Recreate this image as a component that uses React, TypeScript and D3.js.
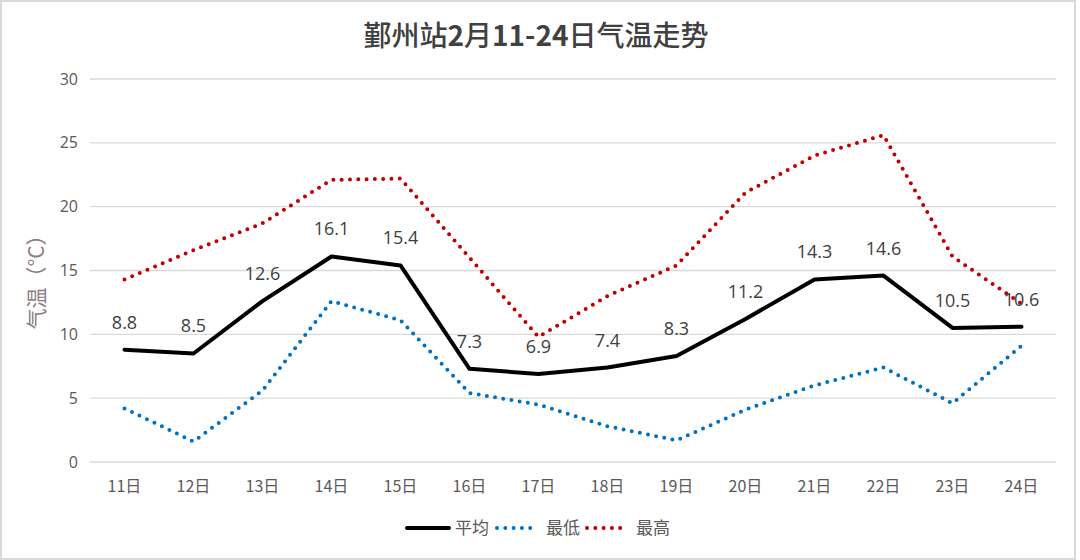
import * as d3 from "d3";

const days = ["11日", "12日", "13日", "14日", "15日", "16日", "17日", "18日", "19日", "20日", "21日", "22日", "23日", "24日"];
const avgTemp = [8.8, 8.5, 12.6, 16.1, 15.4, 7.3, 6.9, 7.4, 8.3, 11.2, 14.3, 14.6, 10.5, 10.6];
const lowTemp = [4.2, 1.6, 5.6, 12.6, 11.1, 5.4, 4.5, 2.8, 1.7, 4.1, 6.0, 7.4, 4.6, 9.1];
const highTemp = [14.3, 16.6, 18.7, 22.1, 22.2, 16.0, 9.8, 13.0, 15.4, 21.1, 24.0, 25.6, 16.1, 12.4];
const yTicks = [0, 5, 10, 15, 20, 25, 30];

const W = 1080;
const H = 560;
const margin = { top: 79, right: 24, bottom: 98, left: 90 };
const font = "'Open Sans', 'Noto Sans CJK SC', sans-serif";
const cjk = "'Noto Sans CJK SC', sans-serif";

export default function App() {
  const innerW = W - margin.left - margin.right;
  const innerH = H - margin.top - margin.bottom;

  const x = d3.scaleBand<string>().domain(days).range([0, innerW]);
  const y = d3.scaleLinear().domain([0, 30]).range([innerH, 0]);
  const cx = (i: number) => (x(days[i]) ?? 0) + x.bandwidth() / 2;

  const line = d3
    .line<number>()
    .x((_, i) => cx(i))
    .y((d) => y(d));

  const series = [
    { name: "平均", data: avgTemp, color: "#000000", dotted: false },
    { name: "最低", data: lowTemp, color: "#0070c0", dotted: true },
    { name: "最高", data: highTemp, color: "#c00000", dotted: true },
  ];

  return (
    <svg
      width={W}
      height={H}
      style={{ position: "absolute", left: 0, top: 0, background: "#fff" }}
    >
      <rect x={1} y={1} width={W - 6} height={H - 2} fill="#fff" stroke="#d9d9d9" strokeWidth={2} />
      <text
        x={536}
        y={46}
        textAnchor="middle"
        fontFamily={cjk}
        fontWeight={500}
        fontSize={28}
        fill="#404040"
      >
        鄞州站<tspan fontWeight="bold">2</tspan>月<tspan fontWeight="bold">11-24</tspan>日气温走势
      </text>

      <g transform={`translate(${margin.left},${margin.top})`}>
        {yTicks.map((t) => (
          <g key={t}>
            <line x1={0} x2={innerW} y1={y(t)} y2={y(t)} stroke="#d9d9d9" strokeWidth={1.3} />
            <text
              x={-12}
              y={y(t)}
              dy="0.35em"
              textAnchor="end"
              fontFamily={font}
              fontSize={16}
              fill="#595959"
            >
              {t}
            </text>
          </g>
        ))}

        {days.map((d, i) => (
          <text
            key={d}
            x={cx(i)}
            y={innerH + 30}
            textAnchor="middle"
            fontFamily={cjk}
            fontSize={16}
            fill="#595959"
          >
            {d}
          </text>
        ))}

        {series.map((s) => (
          <path
            key={s.name}
            d={line(s.data) ?? ""}
            fill="none"
            stroke={s.color}
            strokeWidth={4}
            strokeLinecap="round"
            strokeLinejoin="round"
            strokeDasharray={s.dotted ? "0 8.3" : undefined}
          />
        ))}

        {avgTemp.map((v, i) => (
          <text
            key={i}
            x={cx(i)}
            y={y(v) - 21}
            textAnchor="middle"
            fontFamily={font}
            fontSize={18}
            fill="#404040"
          >
            {v.toFixed(1)}
          </text>
        ))}
      </g>

      <g transform="translate(44,277) rotate(-90)">
        <text
          x={0}
          y={0}
          textAnchor="middle"
          style={{ fontFamily: cjk, fontSize: "21px" }}
          fill="#8a7c82"
        >
          气温（°C）
        </text>
      </g>

      <g transform={`translate(0,528)`} fontFamily={cjk} fontSize={17} fill="#595959">
        <line x1={407} x2={449} y1={0} y2={0} stroke="#000" strokeWidth={4} strokeLinecap="round" />
        <text x={455} y={0} dy="0.35em">平均</text>
        <line x1={497} x2={536} y1={0} y2={0} stroke="#0070c0" strokeWidth={4} strokeLinecap="round" strokeDasharray="0 8.3" />
        <text x={546} y={0} dy="0.35em">最低</text>
        <line x1={587} x2={627} y1={0} y2={0} stroke="#c00000" strokeWidth={4} strokeLinecap="round" strokeDasharray="0 8.3" />
        <text x={636} y={0} dy="0.35em">最高</text>
      </g>
    </svg>
  );
}
